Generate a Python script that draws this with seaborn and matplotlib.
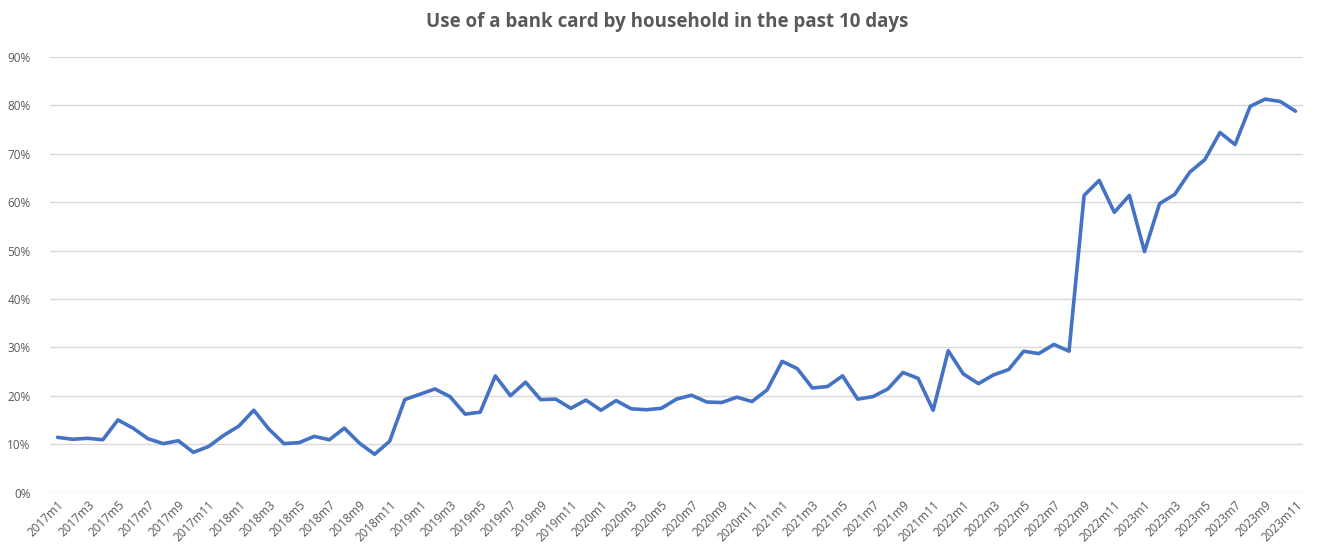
import numpy as np
import pandas as pd
import seaborn as sns
import matplotlib.pyplot as plt
from matplotlib.ticker import PercentFormatter

# monthly share of households (%), 2017m1 .. 2023m11
years = [2017, 2018, 2019, 2020, 2021, 2022, 2023]
share = [
    11.4, 11.0, 11.2, 10.9, 15.0, 13.3, 11.1, 10.1, 10.7, 8.3, 9.5, 11.8,   # 2017
    13.7, 17.0, 13.1, 10.1, 10.3, 11.6, 10.9, 13.3, 10.2, 7.9, 10.6, 19.2,  # 2018
    20.3, 21.4, 19.8, 16.2, 16.6, 24.1, 20.0, 22.8, 19.2, 19.3, 17.4, 19.1, # 2019
    17.0, 19.0, 17.3, 17.1, 17.4, 19.3, 20.1, 18.7, 18.6, 19.7, 18.8, 21.2, # 2020
    27.1, 25.6, 21.6, 21.9, 24.1, 19.3, 19.8, 21.4, 24.8, 23.6, 17.0, 29.3, # 2021
    24.5, 22.5, 24.3, 25.4, 29.2, 28.7, 30.6, 29.2, 61.4, 64.5, 57.9, 61.4, # 2022
    49.8, 59.7, 61.6, 66.2, 68.8, 74.4, 71.9, 79.8, 81.3, 80.8, 78.8,       # 2023
]
months = [f"{y}m{m}" for y in years for m in range(1, 13)][:len(share)]

df = pd.DataFrame({"month": months, "share": share})
df["idx"] = np.arange(len(df))

sns.set_style("white")
plt.rcParams['font.family'] = ['Open Sans', 'DejaVu Sans']
grey = "#595959"

fig = plt.figure(figsize=(13.24, 5.52), dpi=100)
ax = fig.add_axes([50 / 1324, 1 - 492.5 / 552, 1253 / 1324, 435.5 / 552])

sns.lineplot(data=df, x="idx", y="share", color="#4472C4", linewidth=2.6, ax=ax)

ax.set_xlim(-0.5, len(df) - 0.5)
ax.set_ylim(0, 90)
ax.set_yticks(range(0, 91, 10))
ax.yaxis.set_major_formatter(PercentFormatter(decimals=0))
ax.set_xticks(df["idx"][::2])
ax.set_xticklabels(df["month"][::2], rotation=45, ha="right", rotation_mode="anchor")
ax.tick_params(axis="x", colors=grey, labelsize=8.5, length=0, pad=4)
ax.tick_params(axis="y", colors=grey, labelsize=8.5, length=0, pad=14)
ax.grid(axis="y", color="#d9d9d9", linewidth=1)
ax.set_axisbelow(True)
for s in ["top", "right", "left", "bottom"]:
    ax.spines[s].set_visible(False)
ax.set_xlabel("")
ax.set_ylabel("")

fig.suptitle("Use of a bank card by household in the past 10 days",
             x=667.5 / 1324, y=1 - 22 / 552, va="center",
             fontsize=13.5, fontweight="bold", color=grey)

fig.savefig("out.png", dpi=100)
